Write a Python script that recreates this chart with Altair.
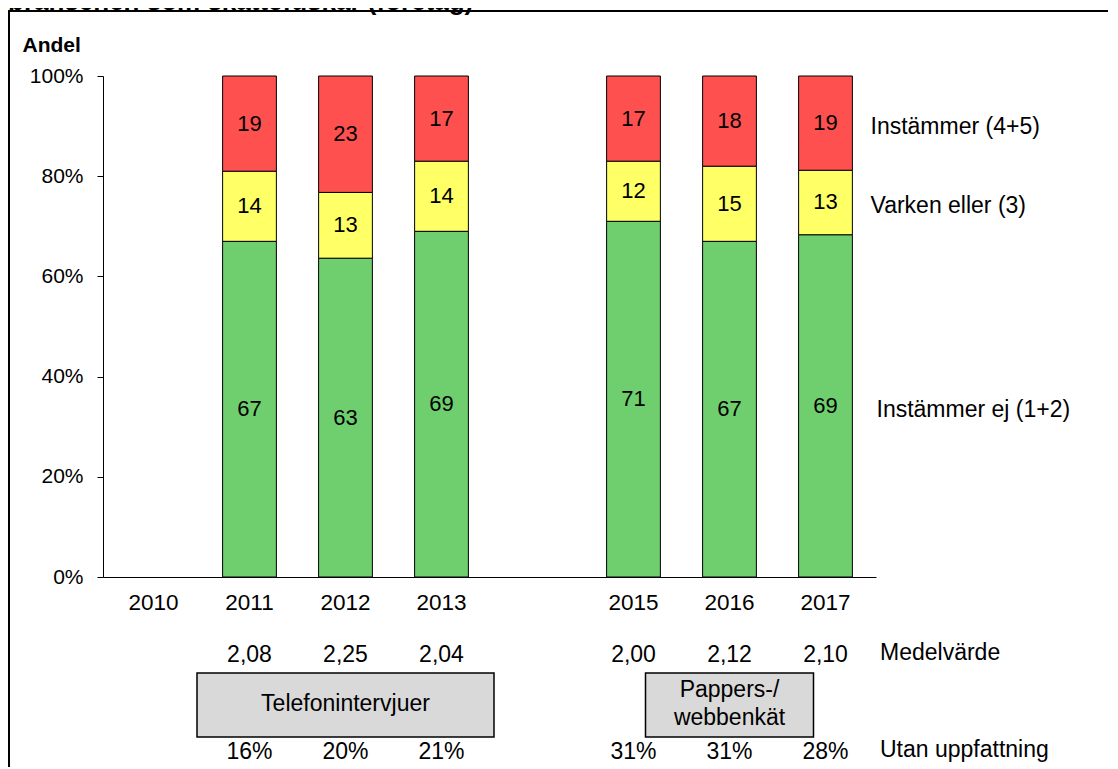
import altair as alt
import pandas as pd

# ---- data ----
all_years = ["2010", "2011", "2012", "2013", "2014", "2015", "2016", "2017"]
years = ["2011", "2012", "2013", "2015", "2016", "2017"]
instammer_ej = [67, 63, 69, 71, 67, 69]
varken = [14, 13, 14, 12, 15, 13]
instammer = [19, 23, 17, 17, 18, 19]
medelvarde = ["2,08", "2,25", "2,04", "2,00", "2,12", "2,10"]
utan_uppfattning = ["16%", "20%", "21%", "31%", "31%", "28%"]
series = ["Instämmer ej (1+2)", "Varken eller (3)", "Instämmer (4+5)"]
colors = ["#6FCF6F", "#FFFF66", "#FF5050"]
method_groups = ["Telefonintervjuer", "Pappers-/\nwebbenkät"]
method_anchor = ["2012", "2016"]
title_text = "branschen som skattefuskar (företag)"

rows = []
for i, yr in enumerate(years):
    for k, (s, vals) in enumerate(zip(series, [instammer_ej, varken, instammer])):
        rows.append({"year": yr, "series": s, "order": k, "value": vals[i]})
df = pd.DataFrame(rows)
df_rows = pd.DataFrame({"year": years, "medel": medelvarde, "utan": utan_uppfattning})

FONT = "Liberation Sans"
W, H = 773, 501

x_scale = alt.Scale(domain=all_years, paddingInner=0.44, paddingOuter=0.246)
x_axis = alt.Axis(
    title=None, labelExpr="datum.value == '2014' ? '' : datum.label",
    ticks=False, domain=True, labelPadding=14, labelFontSize=22.5, labelAngle=0,
    domainColor="black", domainWidth=1, labelColor="black", labelFont=FONT,
)
y_scale = alt.Scale(domain=[0, 1])
y_axis = alt.Axis(
    title="Andel", format=".0%", values=[0, 0.2, 0.4, 0.6, 0.8, 1.0],
    grid=False, domain=True, domainWidth=1, tickSize=6, tickColor="black", domainColor="black",
    labelPadding=14, labelFontSize=21, labelFont=FONT, labelColor="black",
    titleAngle=0, titleX=-81, titleY=-31, titleAlign="left",
    titleBaseline="middle", titleFont=FONT, titleFontSize=21,
    titleFontWeight="bold", titleColor="black",
)
X = alt.X("year:N", scale=x_scale, axis=x_axis)

base = alt.Chart(df).transform_stack(
    as_=["v0", "v1"], stack="value", groupby=["year"],
    sort=[alt.SortField("order")], offset="normalize",
).transform_calculate(mid="(datum.v0 + datum.v1) / 2")

bars = base.mark_bar(stroke="black", strokeWidth=1).encode(
    x=X,
    y=alt.Y("v0:Q", scale=y_scale, axis=y_axis),
    y2="v1:Q",
    color=alt.Color("series:N", scale=alt.Scale(domain=series, range=colors), legend=None),
)

bar_labels = base.mark_text(font=FONT, fontSize=22, color="black", baseline="middle").encode(
    x=X, y=alt.Y("mid:Q", scale=y_scale, axis=y_axis), text="value:Q",
)

series_labels_top = base.transform_filter(
    (alt.datum.year == "2017") & (alt.datum.order > 0)
).mark_text(font=FONT, fontSize=23, color="black", align="left", baseline="middle", dx=45, dy=4).encode(
    x=X, y=alt.Y("mid:Q", scale=y_scale, axis=y_axis), text="series:N",
)
series_labels_bottom = base.transform_filter(
    (alt.datum.year == "2017") & (alt.datum.order == 0)
).mark_text(font=FONT, fontSize=23, color="black", align="left", baseline="middle", dx=51, dy=4).encode(
    x=X, y=alt.Y("mid:Q", scale=y_scale, axis=y_axis), text="series:N",
)

medel_text = alt.Chart(df_rows).mark_text(font=FONT, fontSize=23, color="black", baseline="middle").encode(
    x=X, y=alt.value(579), text="medel:N",
)
utan_text = alt.Chart(df_rows).mark_text(font=FONT, fontSize=23, color="black", baseline="middle").encode(
    x=X, y=alt.value(676), text="utan:N",
)
medel_lbl = alt.Chart(pd.DataFrame({"t": ["Medelvärde"]})).mark_text(
    font=FONT, fontSize=23, color="black", align="left", baseline="middle"
).encode(x=alt.value(777), y=alt.value(577), text="t:N")
utan_lbl = alt.Chart(pd.DataFrame({"t": ["Utan uppfattning"]})).mark_text(
    font=FONT, fontSize=23, color="black", align="left", baseline="middle"
).encode(x=alt.value(777), y=alt.value(674), text="t:N")

df_m1 = pd.DataFrame({"year": [method_anchor[0]], "t": [method_groups[0]]})
df_m2 = pd.DataFrame({"year": [method_anchor[1]], "t": [method_groups[1]]})
box1 = alt.Chart(df_m1).mark_bar(width=297, fill="#D9D9D9", stroke="black", strokeWidth=1.5).encode(
    x=X, y=alt.value(597), y2=alt.value(661),
)
box2 = alt.Chart(df_m2).mark_bar(width=168, fill="#D9D9D9", stroke="black", strokeWidth=1.5).encode(
    x=X, y=alt.value(597), y2=alt.value(661),
)
box1_t = alt.Chart(df_m1).mark_text(font=FONT, fontSize=23, color="black", baseline="middle").encode(
    x=X, y=alt.value(628), text="t:N",
)
box2_t = alt.Chart(df_m2).mark_text(font=FONT, fontSize=23, color="black", baseline="middle",
                                   lineBreak="\n", lineHeight=28).encode(
    x=X, y=alt.value(614), text="t:N",
)

border_top = alt.Chart(pd.DataFrame({"a": [0]})).mark_rule(color="black", strokeWidth=2).encode(
    x=alt.value(-95), x2=alt.value(1100), y=alt.value(-65)
)
border_left = alt.Chart(pd.DataFrame({"a": [0]})).mark_rule(color="black", strokeWidth=2).encode(
    x=alt.value(-94), y=alt.value(-66), y2=alt.value(720)
)
title = alt.Chart(pd.DataFrame({"t": [title_text]})).mark_text(
    font=FONT, fontSize=26, fontWeight="bold", color="black", align="left", baseline="alphabetic"
).encode(x=alt.value(-95), y=alt.value(-66), text="t:N")

chart = alt.layer(
    bars, bar_labels, series_labels_top, series_labels_bottom,
    medel_text, utan_text, medel_lbl, utan_lbl,
    box1, box2, box1_t, box2_t, border_top, border_left, title,
).properties(
    width=W, height=H,
    padding={"left": 95, "top": 68, "right": 232, "bottom": 190},
    autosize=alt.AutoSizeParams(type="none"),
    background="white",
).configure_view(stroke=None)

chart.save("out.html", embed_options={"renderer": "svg", "actions": False})
